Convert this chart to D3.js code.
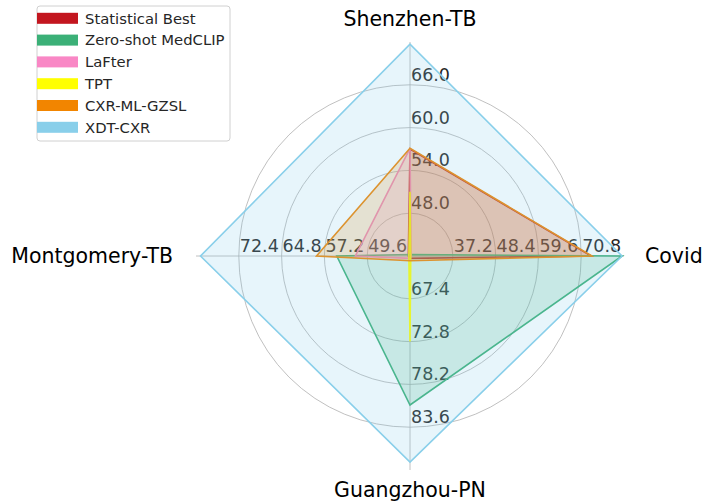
<!DOCTYPE html>
<html>
<head>
<meta charset="utf-8">
<script src="https://cdn.jsdelivr.net/npm/d3@7"></script>
<style>
  body { margin: 0; background: #fff; }
  svg { font-family: "DejaVu Sans", sans-serif; }
</style>
</head>
<body>
<div class="radar-container"></div>
<script>
// axes, in angular order starting east and going counter-clockwise
const axes = ['Covid', 'Shenzhen-TB', 'Montgomery-TB', 'Guangzhou-PN'];
const axisMin = [26.0, 42.0, 42.0, 62.0];
const axisMax = [82.0, 72.0, 80.0, 89.0];
const covidTicks = [37.2, 48.4, 59.6, 70.8];
const shenzhenTicks = [48.0, 54.0, 60.0, 66.0];
const montgomeryTicks = [49.6, 57.2, 64.8, 72.4];
const guangzhouTicks = [67.4, 72.8, 78.2, 83.6];

const seriesNames = ['Statistical Best', 'Zero-shot MedCLIP', 'LaFter', 'TPT', 'CXR-ML-GZSL', 'XDT-CXR'];
const statisticalBest = [73.4, 57.0, 42.3, 62.3];
const zeroShotMedclip = [81.5, 42.2, 55.0, 80.8];
const lafter = [26.3, 57.1, 51.7, 62.3];
const tpt = [26.2, 51.0, 42.2, 72.8];
const cxrMlGzsl = [73.6, 57.1, 58.6, 62.6];
const xdtCxr = [81.5, 71.7, 79.2, 88.0];

const colors = ['#c3161f', '#3bb077', '#f987c5', '#ffff00', '#f28500', '#89cfea'];

const allSeries = [statisticalBest, zeroShotMedclip, lafter, tpt, cxrMlGzsl, xdtCxr];
const allTicks = [covidTicks, shenzhenTicks, montgomeryTicks, guangzhouTicks];

const width = 704, height = 504;
const cx = 410, cy = 256, R = 214;

const svg = d3.select('.radar-container')
  .append('svg')
  .attr('width', width)
  .attr('height', height);

// one radial scale per axis
const scales = axes.map((a, i) => d3.scaleLinear().domain([axisMin[i], axisMax[i]]).range([0, R]));
// d3 radial angle: 0 at north, clockwise
const angles = [Math.PI / 2, 0, -Math.PI / 2, Math.PI];

const g = svg.append('g').attr('transform', `translate(${cx},${cy})`);

// grid rings
const ringScale = d3.scaleLinear().domain([0, 5]).range([0, R]);
g.selectAll('circle.grid')
  .data([1, 2, 3, 4])
  .enter()
  .append('circle')
  .attr('class', 'grid')
  .attr('r', (d) => ringScale(d))
  .attr('fill', 'none')
  .attr('stroke', '#b0b0b0')
  .attr('stroke-width', 0.8);

// spokes
g.selectAll('line.spoke')
  .data(angles)
  .enter()
  .append('line')
  .attr('class', 'spoke')
  .attr('x1', 0).attr('y1', 0)
  .attr('x2', (a) => R * Math.sin(a))
  .attr('y2', (a) => -R * Math.cos(a))
  .attr('stroke', '#b0b0b0')
  .attr('stroke-width', 0.8);

// tick labels (under the polygons)
axes.forEach((a, i) => {
  g.selectAll(null)
    .data(allTicks[i])
    .enter()
    .append('text')
    .attr('x', (d) => scales[i](d) * Math.sin(angles[i]) + 1)
    .attr('y', (d) => -scales[i](d) * Math.cos(angles[i]) - 4)
    .attr('font-size', 17.5)
    .attr('fill', '#262626')
    .text((d) => d.toFixed(1));
});

// polygons
const radarLine = d3.lineRadial()
  .angle((d, i) => angles[i])
  .radius((d, i) => scales[i](d))
  .curve(d3.curveLinearClosed);

allSeries.forEach((s, k) => {
  g.append('path')
    .datum(s)
    .attr('d', radarLine)
    .attr('fill', colors[k])
    .attr('fill-opacity', 0.2)
    .attr('stroke', colors[k])
    .attr('stroke-width', 1.6)
    .attr('stroke-linejoin', 'miter');
});

// axis titles
const titlePos = [
  { x: 645, y: 263, anchor: 'start' },
  { x: 410, y: 26, anchor: 'middle' },
  { x: 173, y: 263, anchor: 'end' },
  { x: 410, y: 497, anchor: 'middle' },
];
axes.forEach((a, i) => {
  svg.append('text')
    .attr('x', titlePos[i].x)
    .attr('y', titlePos[i].y)
    .attr('text-anchor', titlePos[i].anchor)
    .attr('font-size', 20.5)
    .attr('fill', '#000')
    .text(a);
});

// legend
const legend = svg.append('g').attr('transform', 'translate(37,6)');
legend.append('rect')
  .attr('x', 0).attr('y', 0)
  .attr('width', 193).attr('height', 135)
  .attr('rx', 3)
  .attr('fill', '#fff')
  .attr('fill-opacity', 0.8)
  .attr('stroke', '#d0d0d0');

const rows = legend.selectAll('g.item')
  .data(seriesNames)
  .enter()
  .append('g')
  .attr('class', 'item')
  .attr('transform', (d, i) => `translate(0,${12.3 + i * 21.8})`);

rows.append('rect')
  .attr('x', 0).attr('y', -5.5)
  .attr('width', 41).attr('height', 11)
  .attr('fill', (d, i) => colors[i]);

rows.append('text')
  .attr('x', 48)
  .attr('y', 5.3)
  .attr('font-size', 14.8)
  .attr('fill', '#262626')
  .text((d) => d);
</script>
</body>
</html>
